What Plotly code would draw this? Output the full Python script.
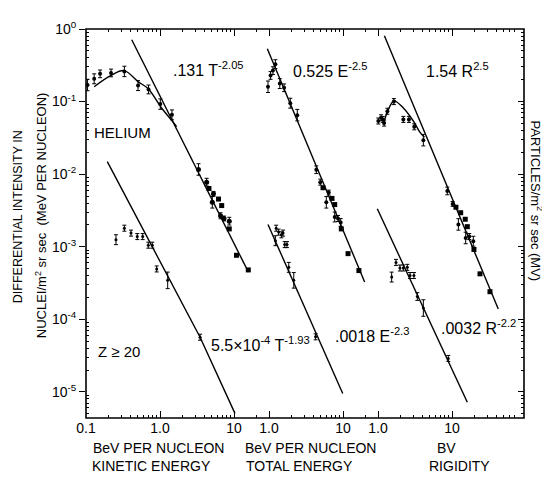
import plotly.graph_objects as go

# ---------------- data ----------------
# Panel 1: kinetic energy T (BeV/nucleon)
he1_t_lo = [0.105, 0.129, 0.155, 0.218, 0.330, 0.505, 0.70, 1.01, 1.45]
he1_i_lo = [0.169, 0.206, 0.241, 0.248, 0.260, 0.166, 0.147, 0.0923, 0.0656]
he1_f_lo = [1.2, 1.17, 1.13, 1.13, 1.18, 1.17, 1.15, 1.18, 1.17]
he1_t_dot = [3.31, 4.27, 5.28, 5.09, 6.58, 7.33, 8.63]
he1_i_dot = [0.0116, 0.00776, 0.00535, 0.00409, 0.00267, 0.00245, 0.00225]
he1_f_dot = [1.2, 1.13, 1.08, 1.2, 1.1, 1.08, 1.13]
he1_t_sq = [4.59, 6.18, 6.82, 8.63, 10.8, 15.6]
he1_i_sq = [0.00634, 0.00454, 0.00369, 0.00176, 0.000762, 0.000479]
he1_curve_t = [0.129, 0.218, 0.327, 0.505, 0.689, 1.05, 1.44, 1.68]
he1_curve_i = [0.160, 0.229, 0.267, 0.188, 0.151, 0.0815, 0.0550, 0.0452]
he1_fit_t = [0.415, 15.6]
he1_fit_i = [0.711, 0.000450]

z1_t = [0.254, 0.330, 0.406, 0.493, 0.583, 0.695, 0.787, 0.902, 1.27, 3.48]
z1_i = [0.00125, 0.00180, 0.00154, 0.00138, 0.00138, 0.00105, 0.00105, 0.000494, 0.000344, 5.66e-5]
z1_f = [1.17, 1.1, 1.1, 1.1, 1.1, 1.1, 1.1, 1.1, 1.3, 1.1]
z1_fit_t = [0.194, 3.48, 10.3]
z1_fit_i = [0.01486, 5.66e-5, 5.06e-6]

# Panel 2: total energy E (BeV/nucleon)
he2_e_dot = [0.969, 1.05, 1.13, 1.22, 1.40, 1.60, 1.94, 2.41, 4.36, 4.93, 6.41, 5.95, 7.73, 8.56, 9.30]
he2_i_dot = [0.160, 0.229, 0.267, 0.328, 0.177, 0.155, 0.0951, 0.0650, 0.0115, 0.00776, 0.00557,
             0.00409, 0.00257, 0.00245, 0.00216]
he2_f_dot = [1.2, 1.13, 1.13, 1.15, 1.17, 1.13, 1.17, 1.2, 1.13, 1.1, 1.08, 1.2, 1.17, 1.1, 1.13]
he2_e_sq = [5.37, 7.10, 7.73, 9.49, 11.7, 16.4]
he2_i_sq = [0.00650, 0.00463, 0.00381, 0.00176, 0.000803, 0.000469]
he2_fit_e = [0.949, 19.6]
he2_fit_i = [0.533, 0.000327]

z2_e = [1.22, 1.25, 1.35, 1.47, 1.55, 1.63, 1.75, 1.85, 2.16, 4.26]
z2_i = [0.00121, 0.00180, 0.00159, 0.00146, 0.00154, 0.00107, 0.00107, 0.000520, 0.000344, 5.74e-5]
z2_f = [1.17, 1.1, 1.1, 1.1, 1.1, 1.1, 1.1, 1.17, 1.28, 1.1]
z2_fit_e = [0.969, 9.91]
z2_fit_i = [0.00203, 9.5e-6]

# Panel 3: rigidity R (BV)
he3_r_dot = [1.01, 1.10, 1.16, 1.21, 1.34, 1.64, 2.20, 2.62, 3.09, 4.10, 8.64, 10.2, 12.2, 15.3, 17.1, 19.4]
he3_i_dot = [0.0540, 0.0598, 0.0568, 0.0505, 0.0736, 0.100, 0.0568, 0.0568, 0.0449, 0.0294,
             0.00587, 0.00389, 0.00203, 0.00132, 0.00138, 0.00119]
he3_f_dot = [1.1, 1.1, 1.1, 1.1, 1.1, 1.1, 1.1, 1.1, 1.1, 1.2, 1.13, 1.08, 1.2, 1.2, 1.1, 1.17]
he3_r_sq = [11.3, 13.1, 15.1, 16.1, 19.8, 23.9, 32.6]
he3_i_sq = [0.00350, 0.00294, 0.00239, 0.00189, 0.000917, 0.000423, 0.000240]
he3_curve_r = [1.18, 1.34, 1.64, 2.20, 3.0, 3.70, 4.25]
he3_curve_i = [0.0482, 0.0721, 0.102, 0.0815, 0.0540, 0.0376, 0.0322]
he3_fit_r = [1.22, 42.2]
he3_fit_i = [0.805, 0.000139]

z3_r = [1.53, 1.75, 1.98, 2.20, 2.49, 2.71, 3.06, 3.40, 4.10, 8.91]
z3_i = [0.000382, 0.000608, 0.000509, 0.000509, 0.000520, 0.000401, 0.000401, 0.000206, 0.000143, 2.89e-5]
z3_f = [1.17, 1.1, 1.1, 1.1, 1.1, 1.1, 1.1, 1.13, 1.3, 1.1]
z3_fit_r = [0.978, 16.1]
z3_fit_i = [0.00333, 7.18e-6]

y_tickvals = [1, 0.1, 0.01, 0.001, 0.0001, 0.00001]
y_ticktext = ["10<sup>0</sup>", "10<sup>-1</sup>", "10<sup>-2</sup>", "10<sup>-3</sup>",
              "10<sup>-4</sup>", "10<sup>-5</sup>"]

# ---------------- figure ----------------
OFF = 8                       # page body margin of the HTML page
PAGE_W, PAGE_H = 550, 477
W, H = PAGE_W - OFF, PAGE_H - OFF
L, R, T, B = 86, 524, 19, 418  # plot area in page pixels
FONT = "Liberation Sans"
BLACK = "black"

fig = go.Figure()


def errdots(x, y, f, xa, size=4):
    up = [v * (k - 1) for v, k in zip(y, f)]
    dn = [v * (1 - 1 / k) for v, k in zip(y, f)]
    fig.add_trace(go.Scatter(
        x=x, y=y, xaxis=xa, yaxis="y", mode="markers",
        marker=dict(symbol="circle", size=size, color=BLACK),
        error_y=dict(type="data", symmetric=False, array=up, arrayminus=dn,
                     color=BLACK, thickness=1, width=2),
        hoverinfo="skip"))


def squares(x, y, xa):
    fig.add_trace(go.Scatter(
        x=x, y=y, xaxis=xa, yaxis="y", mode="markers",
        marker=dict(symbol="square", size=5, color=BLACK), hoverinfo="skip"))


def line(x, y, xa, spline=False):
    fig.add_trace(go.Scatter(
        x=x, y=y, xaxis=xa, yaxis="y", mode="lines",
        line=dict(color=BLACK, width=1.4, shape="spline" if spline else "linear"),
        hoverinfo="skip"))


# panel 1
line(he1_fit_t, he1_fit_i, "x")
line(he1_curve_t, he1_curve_i, "x", spline=True)
errdots(he1_t_lo, he1_i_lo, he1_f_lo, "x")
errdots(he1_t_dot, he1_i_dot, he1_f_dot, "x", size=5)
squares(he1_t_sq, he1_i_sq, "x")
line(z1_fit_t, z1_fit_i, "x")
errdots(z1_t, z1_i, z1_f, "x", size=3)

# panel 2
line(he2_fit_e, he2_fit_i, "x2")
errdots(he2_e_dot, he2_i_dot, he2_f_dot, "x2")
squares(he2_e_sq, he2_i_sq, "x2")
line(z2_fit_e, z2_fit_i, "x2")
errdots(z2_e, z2_i, z2_f, "x2", size=3)

# panel 3
line(he3_fit_r, he3_fit_i, "x3")
line(he3_curve_r, he3_curve_i, "x3", spline=True)
errdots(he3_r_dot, he3_i_dot, he3_f_dot, "x3")
squares(he3_r_sq, he3_i_sq, "x3")
line(z3_fit_r, z3_fit_i, "x3")
errdots(z3_r, z3_i, z3_f, "x3", size=3)

# invisible trace to activate right axis
fig.add_trace(go.Scatter(x=[1], y=[0.01], xaxis="x", yaxis="y2", mode="markers",
                         marker=dict(opacity=0), hoverinfo="skip"))


def minor_vals(decades):
    out = []
    for d in decades:
        out += [k * d for k in range(2, 10)]
    return out


DEC = 74.0  # pixels per decade along x
WID = (R - L) / DEC


def xax(left_log, tv, tt, minor, **kw):
    d = dict(type="log", range=[left_log, left_log + WID], domain=[0, 1], anchor="y",
             tickvals=tv, ticktext=tt, ticks="inside", ticklen=7, tickwidth=1.2,
             tickcolor=BLACK, mirror="ticks", showline=False, showgrid=False, zeroline=False,
             tickfont=dict(family=FONT, size=14, color=BLACK),
             minor=dict(tickvals=minor, ticks="inside", ticklen=3, tickwidth=1, tickcolor=BLACK,
                        showgrid=False))
    d.update(kw)
    return d


fig.update_layout(
    width=W, height=H,
    margin=dict(l=L - OFF, r=PAGE_W - R, t=T - OFF, b=PAGE_H - B, pad=0),
    plot_bgcolor="white", paper_bgcolor="white", showlegend=False,
    font=dict(family=FONT, color=BLACK, size=13),
    xaxis=xax(-1.0, [0.1, 1, 10], ["0.1", "1.0", "10"], minor_vals([0.1, 1]) + [20]),
    xaxis2=xax(-(269 - L) / DEC, [1, 10], ["1.0", "10"], minor_vals([1]) + [20], overlaying="x"),
    xaxis3=xax(-(378 - L) / DEC, [1, 10], ["1.0", "10"], minor_vals([1]) + [20, 30, 40, 50, 60, 70],
               overlaying="x"),
    yaxis=dict(type="log", range=[-5.36, 0], domain=[0, 1], anchor="x",
               tickvals=y_tickvals, ticktext=y_ticktext, ticks="outside", ticklen=6,
               tickwidth=1.2, tickcolor=BLACK, showline=False, showgrid=False, zeroline=False,
               tickfont=dict(family=FONT, size=14, color=BLACK),
               minor=dict(tickvals=minor_vals([1e-6, 1e-5, 1e-4, 1e-3, 1e-2, 1e-1]),
                          ticks="inside", ticklen=3, tickcolor=BLACK, showgrid=False)),
    yaxis2=dict(type="log", range=[-5.36, 0], overlaying="y", side="right", anchor="x",
                tickvals=y_tickvals, showticklabels=False, ticks="inside", ticklen=6,
                tickwidth=1.2, tickcolor=BLACK, showline=False, showgrid=False, zeroline=False,
                minor=dict(tickvals=minor_vals([1e-6, 1e-5, 1e-4, 1e-3, 1e-2, 1e-1]),
                           ticks="inside", ticklen=3, tickcolor=BLACK, showgrid=False)),
)

fig.add_shape(type="rect", xref="paper", yref="paper", x0=0, y0=0, x1=1, y1=1,
              line=dict(color=BLACK, width=1.6), fillcolor="rgba(0,0,0,0)", layer="above")


def px(x, y):
    return (x - L) / (R - L), (B - y) / (B - T)


def note(text, x, y, size=14, angle=0, xanchor="center"):
    ax, ay = px(x, y)
    fig.add_annotation(text=text, x=ax, y=ay, xref="paper", yref="paper", showarrow=False,
                       textangle=angle, xanchor=xanchor, yanchor="middle",
                       font=dict(family=FONT, size=size, color=BLACK))


note(".131 T<sup>-2.05</sup>", 208, 60, size=16)
note("HELIUM", 122, 125, size=15)
note("0.525 E<sup>-2.5</sup>", 330, 61, size=16)
note("1.54 R<sup>2.5</sup>", 457, 61, size=16)
note("Z ≥ 20", 119, 350, size=15)
note("5.5×10<sup>-4</sup> T<sup>-1.93</sup>", 260, 342, size=16)
note(".0018 E<sup>-2.3</sup>", 372, 333, size=16)
note(".0032 R<sup>-2.2</sup>", 478, 325, size=16)

note("DIFFERENTIAL INTENSITY IN", 18, 212, size=12.5, angle=-90)
note("NUCLEI/m<sup>2</sup> sr sec  (MeV PER NUCLEON)", 41, 210, size=13, angle=-90)
note("PARTICLES/m<sup>2</sup> sr sec (MV)", 537, 195, size=13, angle=90)

note("BeV PER NUCLEON", 158, 449, size=14)
note("KINETIC ENERGY", 90, 467, size=14, xanchor="left")
note("BeV PER NUCLEON", 310, 449, size=14)
note("TOTAL ENERGY", 244, 467, size=14, xanchor="left")
note("BV", 446, 449, size=14)
note("RIGIDITY", 459, 467, size=14)

fig.write_html("out.html")
